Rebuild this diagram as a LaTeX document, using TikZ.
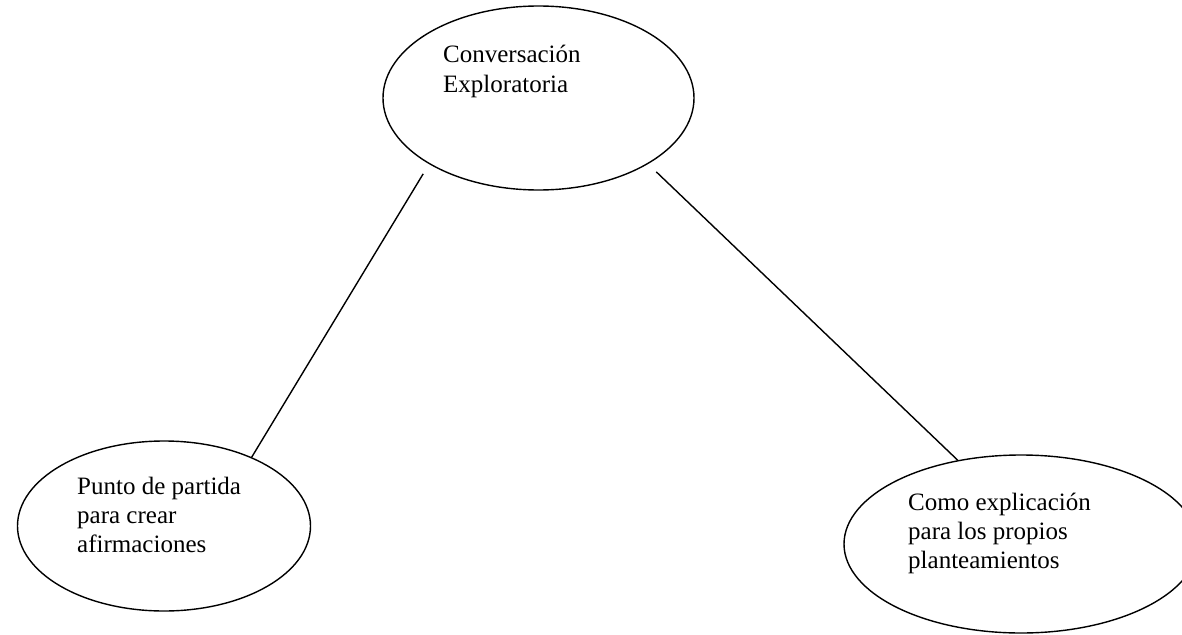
\documentclass[tikz,border=0pt]{standalone}
\usepackage{fontspec}
\setmainfont{Liberation Serif}
\usetikzlibrary{shapes.geometric}
\begin{document}
\begin{tikzpicture}[x=1pt,y=-1pt,
  bubble/.style={draw=black,line width=1.4pt,ellipse,inner sep=0pt,outer sep=0pt},
  caption/.style={anchor=base west,inner sep=0pt,align=left,
    font=\fontsize{25}{29}\selectfont},
  link/.style={draw=black,line width=1.4pt}]
  \useasboundingbox (0,0) rectangle (1182,634);

  % the three bubbles
  \node[bubble,minimum width=311pt,minimum height=184pt] (top) at (538.5,98) {};
  \node[bubble,minimum width=293pt,minimum height=170pt] (left) at (164,526) {};
  \node[bubble,minimum width=354pt,minimum height=178pt] (right) at (1021,544) {};

  % their texts, placed by the baseline of the last line
  \node[caption] (toptext) at (443,92) {Conversación\\Exploratoria};
  \node[caption] (lefttext) at (77,552) {Punto de partida\\para crear\\afirmaciones};
  \node[caption] (righttext) at (908,568) {Como explicación\\para los propios\\planteamientos};

  % connectors
  \draw[link,shorten <=12pt] (top.211) -- (left.38.5);
  \draw[link,shorten <=12pt] (top.329) -- (right.127.3);
\end{tikzpicture}
\end{document}
